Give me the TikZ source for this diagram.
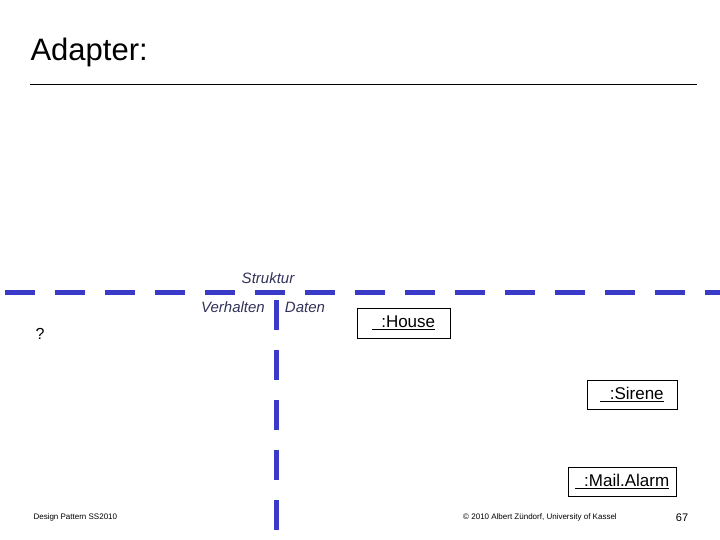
\documentclass[tikz,border=0pt]{standalone}
\usepackage{fontspec}
\setmainfont{Liberation Sans}
\begin{document}
\begin{tikzpicture}[x=1pt,y=-1pt,
  dline/.style={draw={rgb,255:red,58;green,58;blue,200},line width=5pt,dash pattern=on 30pt off 20pt},
  obj/.style={draw,line width=0.6pt,inner sep=0pt,font=\fontsize{17}{19}\selectfont},
  lbl/.style={font=\itshape\fontsize{15}{17}\selectfont,text={rgb,255:red,50;green,50;blue,90}},
  foot/.style={font=\fontsize{8}{9}\selectfont}]
\useasboundingbox (0,0) rectangle (720,540);
\node[anchor=west,font=\fontsize{31}{35}\selectfont] (title) at (27,52) {Adapter:};
\coordinate (r1) at (30,84); \coordinate (r2) at (697,84);
\draw[line width=0.6pt] (r1) -- (r2);
\coordinate (h1) at (0,292); \coordinate (h2) at (722,292);
\coordinate (v1) at (276,292); \coordinate (v2) at (276,530);
\draw[dline,dash phase=-5pt] (h1) -- (h2);
\draw[dline,dash phase=-8pt] (v1) -- (v2);
\node[lbl] (s) at (268,278) {Struktur};
\node[lbl] (ve) at (233,307) {Verhalten};
\node[lbl] (da) at (305,307) {Daten};
\node[font=\fontsize{16}{18}\selectfont] (q) at (40,334) {?};
\node[obj,minimum width=93pt,minimum height=30pt] (house) at (403.5,323) {\underline{\ \ :House}};
\node[obj,minimum width=90pt,minimum height=29pt] (sir) at (632,394.5) {\underline{\ \ :Sirene}};
\node[obj,minimum width=108pt,minimum height=29pt] (mail) at (622,481.5) {\underline{\ \ :Mail.Alarm}};
\node[foot,anchor=west] (f1) at (30,517) {Design Pattern SS2010};
\node[foot] (f2) at (540,517) {© 2010 Albert Zündorf, University of Kassel};
\node[font=\fontsize{11}{12}\selectfont] (pg) at (682,518) {67};
\end{tikzpicture}
\end{document}
